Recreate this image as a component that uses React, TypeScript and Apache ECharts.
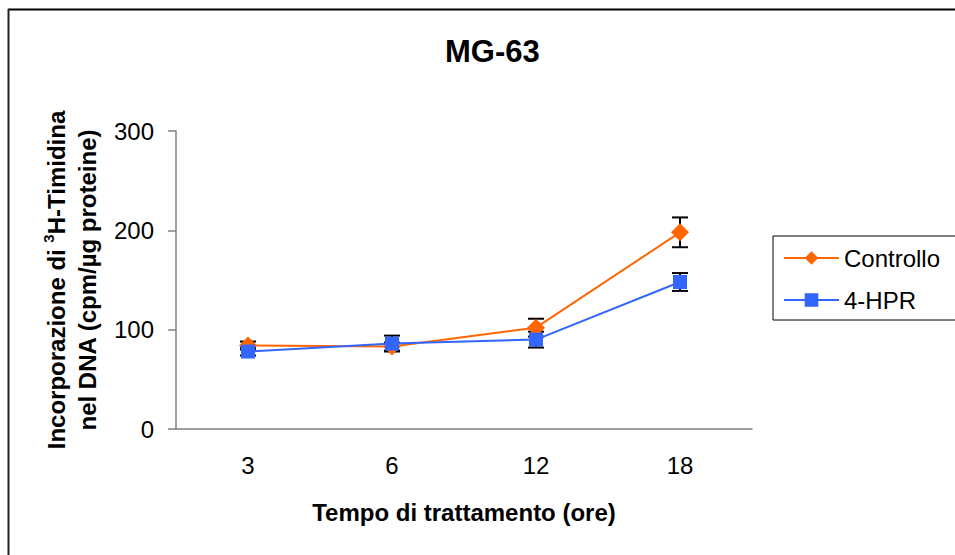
import React, { useEffect, useRef } from "react";
import * as echarts from "echarts";

const categories = ["3", "6", "12", "18"];
const controllo = [84, 83, 102, 198];
const controlloErr = [4, 4, 9, 15];
const hpr = [78, 86, 90, 148];
const hprErr = [4, 8, 8, 9];

const ORANGE = "#FF6600";
const BLUE = "#3366FF";
const FONT = "Liberation Sans, Arial, sans-serif";

function errorSeries(name: string, vals: number[], errs: number[]) {
  const data = vals.map((v, i) => [i, v - errs[i], v + errs[i]]);
  return {
    type: "custom",
    name: name + "-err",
    data,
    z: 1,
    silent: true,
    renderItem: (params: any, api: any) => {
      const x = api.value(0);
      const lo = api.coord([x, api.value(1)]);
      const hi = api.coord([x, api.value(2)]);
      const w = 8;
      const style = { stroke: "#000", lineWidth: 2 };
      return {
        type: "group",
        children: [
          { type: "line", shape: { x1: lo[0], y1: lo[1], x2: hi[0], y2: hi[1] }, style },
          { type: "line", shape: { x1: lo[0] - w, y1: lo[1], x2: lo[0] + w, y2: lo[1] }, style },
          { type: "line", shape: { x1: hi[0] - w, y1: hi[1], x2: hi[0] + w, y2: hi[1] }, style },
        ],
      };
    },
  };
}

export default function App() {
  const ref = useRef<HTMLDivElement>(null);
  useEffect(() => {
    if (!ref.current) return;
    const chart = echarts.init(ref.current, null, { renderer: "svg" });
    chart.setOption({
      animation: false,
      backgroundColor: "#fff",
      title: {
        text: "MG-63",
        left: 440,
        top: 31,
        textStyle: { fontFamily: FONT, fontSize: 31, fontWeight: "bold", color: "#000" },
      },
      graphic: [
        { type: "line", shape: { x1: 8, y1: 9.5, x2: 955, y2: 9.5 }, style: { stroke: "#000", lineWidth: 2 } },
        { type: "line", shape: { x1: 8.5, y1: 9, x2: 8.5, y2: 555 }, style: { stroke: "#222", lineWidth: 2 } },
      ],
      legend: {
        orient: "vertical",
        left: 773,
        top: 236,
        padding: [10, 40, 8, 10],
        itemGap: 18,
        itemWidth: 55,
        itemHeight: 17,
        borderColor: "#000",
        borderWidth: 1,
        borderRadius: 0,
        textStyle: { fontFamily: FONT, fontSize: 24, color: "#000" },
        data: ["Controllo", "4-HPR"],
      },
      grid: { left: 176, top: 131, width: 576, height: 298 },
      xAxis: {
        type: "category",
        data: categories,
        boundaryGap: true,
        name: "Tempo di trattamento (ore)",
        nameLocation: "middle",
        nameGap: 71,
        nameTextStyle: { fontFamily: FONT, fontSize: 24, fontWeight: "bold", color: "#000" },
        axisLine: { lineStyle: { color: "#808080", width: 1.5 } },
        axisTick: { length: 8, lineStyle: { color: "#808080", width: 1.5 } },
        axisLabel: { fontFamily: FONT, fontSize: 24, color: "#000", margin: 24 },
      },
      yAxis: {
        type: "value",
        min: 0,
        max: 300,
        interval: 100,
        name: "{b|Incorporazione di }{sup|3}{b|H-Timidina}\n{b|nel DNA (cpm/µg proteine)}",
        nameLocation: "middle",
        nameGap: 70,
        nameTextStyle: {
          fontFamily: FONT,
          fontSize: 24,
          fontWeight: "bold",
          color: "#000",
          lineHeight: 31,
          rich: {
            b: { fontFamily: FONT, fontSize: 24, fontWeight: "bold", color: "#000", lineHeight: 31 },
            sup: { fontFamily: FONT, fontSize: 15, fontWeight: "bold", color: "#000", verticalAlign: "top", lineHeight: 31, padding: [0, 0, 12, 0] },
          },
        },
        splitLine: { show: false },
        axisLine: { show: true, lineStyle: { color: "#808080", width: 1.5 } },
        axisTick: { show: true, length: 8, lineStyle: { color: "#808080", width: 1.5 } },
        axisLabel: { fontFamily: FONT, fontSize: 24, color: "#000", margin: 22 },
      },
      series: [
        {
          name: "Controllo",
          type: "line",
          data: controllo,
          symbol: "diamond",
          symbolSize: 18,
          color: ORANGE,
          lineStyle: { color: ORANGE, width: 2 },
          itemStyle: { color: ORANGE },
          z: 2,
        },
        {
          name: "4-HPR",
          type: "line",
          data: hpr,
          symbol: "rect",
          symbolSize: 14,
          color: BLUE,
          lineStyle: { color: BLUE, width: 2 },
          itemStyle: { color: BLUE },
          z: 3,
        },
        errorSeries("Controllo", controllo, controlloErr),
        errorSeries("4-HPR", hpr, hprErr),
      ],
    });
    return () => chart.dispose();
  }, []);
  return (
    <div
      ref={ref}
      style={{ position: "fixed", left: 0, top: 0, width: 955, height: 555 }}
    />
  );
}
